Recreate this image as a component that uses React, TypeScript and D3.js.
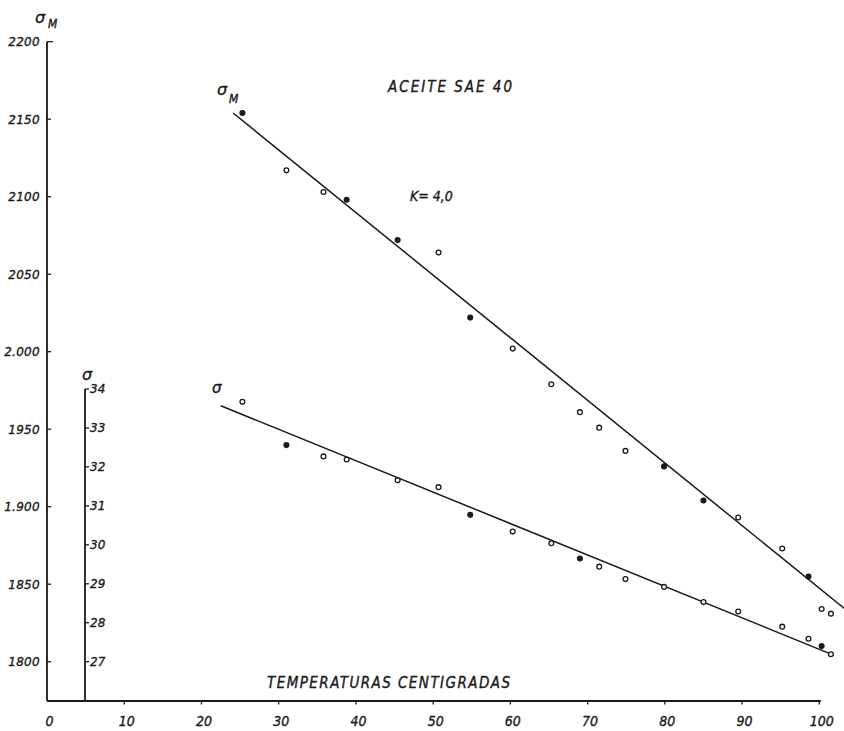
import React from "react";
import * as d3 from "d3";

// ---- data ----
const temps = [25.3, 31.0, 35.8, 38.8, 45.4, 50.7, 54.8, 60.3, 65.3, 69.0, 71.5, 74.9, 79.9, 85.0, 89.5, 95.2, 98.6, 100.3, 101.5];
const sigmaM = [2154, 2117, 2103, 2098, 2072, 2064, 2022, 2002, 1979, 1961, 1951, 1936, 1926, 1904, 1893, 1873, 1855, 1834, 1831];
const sigmaMFilled = [1, 0, 0, 1, 1, 0, 1, 0, 0, 0, 0, 0, 1, 1, 0, 0, 1, 0, 0];
const sigma = [33.67, 32.56, 32.27, 32.19, 31.66, 31.48, 30.77, 30.34, 30.04, 29.65, 29.44, 29.12, 28.92, 28.53, 28.29, 27.9, 27.59, 27.4, 27.19];
const sigmaFilled = [0, 1, 0, 0, 0, 0, 1, 0, 0, 1, 0, 0, 0, 0, 0, 0, 0, 1, 0];

const fitMTemps = [24.1, 103.2];
const fitMValues = [2154, 1834.5];
const fitSTemps = [22.5, 101.85];
const fitSValues = [33.57, 27.17];

const xTicks = [0, 10, 20, 30, 40, 50, 60, 70, 80, 90, 100];
const yMTicks = [2200, 2150, 2100, 2050, 2000, 1950, 1900, 1850, 1800];
const yMTickLabels = ["2200", "2150", "2100", "2050", "2.000", "1950", "1.900", "1850", "1800"];
const ySTicks = [34, 33, 32, 31, 30, 29, 28, 27];

const W = 844;
const H = 731;

const FONT = "'DejaVu Sans', sans-serif";
const NARROW = "'Liberation Sans Narrow', 'DejaVu Sans Condensed', 'Liberation Sans', sans-serif";
const INK = "#1a1a1a";
const TS = { stroke: INK, strokeWidth: 0.35 } as const;

export default function App() {
  const x = d3.scaleLinear().domain([0, 100]).range([47, 819.3]);
  const yM = d3.scaleLinear().domain([1800, 2200]).range([661.7, 41.7]);
  const yS = d3.scaleLinear().domain([27, 34]).range([661.7, 389]);

  const axisY = 701;
  const leftX = x(0);
  const sigmaAxisX = 85;

  const lineM = d3
    .line<number>()
    .x((_, i) => x(fitMTemps[i]))
    .y((v) => yM(v));
  const lineS = d3
    .line<number>()
    .x((_, i) => x(fitSTemps[i]))
    .y((v) => yS(v));

  return (
    <svg
      width={W}
      height={H}
      viewBox={`0 0 ${W} ${H}`}
      style={{ position: "absolute", left: 0, top: 0, background: "#ffffff" }}
    >
      <rect x={0} y={0} width={W} height={H} fill="#ffffff" />
      <defs>
        <clipPath id="plotclip">
          <rect x={0} y={0} width={W} height={H} />
        </clipPath>
      </defs>

      {/* main left axis (sigma_M) */}
      <line x1={leftX} x2={leftX} y1={yM(2200)} y2={axisY} stroke={INK} strokeWidth={1.8} />
      {yMTicks.map((t, i) => (
        <g key={"ym" + t}>
          <line
            x1={leftX}
            x2={leftX + (i === 0 ? 6 : 4)}
            y1={yM(t)}
            y2={yM(t)}
            stroke={INK}
            strokeWidth={1.3}
          />
          <text
            x={40}
            y={yM(t)}
            dy="0.36em"
            textAnchor="end"
            fontFamily={FONT}
            fontStyle="italic"
            fontSize={12}
            letterSpacing={0.3}
            fill={INK}
            {...TS}
          >
            {yMTickLabels[i]}
          </text>
        </g>
      ))}
      <text x={35} y={23} fontFamily={FONT} fontStyle="italic" fontSize={16} fill={INK} {...TS}>
        σ
      </text>
      <text x={48} y={28} fontFamily={NARROW} fontStyle="italic" fontSize={12} fill={INK} {...TS}>
        M
      </text>

      {/* secondary sigma axis */}
      <line x1={sigmaAxisX} x2={sigmaAxisX} y1={yS(34)} y2={axisY} stroke={INK} strokeWidth={1.8} />
      {ySTicks.map((t) => (
        <g key={"ys" + t}>
          <line x1={sigmaAxisX} x2={sigmaAxisX + 4} y1={yS(t)} y2={yS(t)} stroke={INK} strokeWidth={1.3} />
          <text
            x={sigmaAxisX + 5}
            y={yS(t)}
            dy="0.36em"
            fontFamily={FONT}
            fontStyle="italic"
            fontSize={12}
            fill={INK}
            {...TS}
          >
            {t}
          </text>
        </g>
      ))}
      <text x={82} y={380} fontFamily={FONT} fontStyle="italic" fontSize={16} fill={INK} {...TS}>
        σ
      </text>

      {/* bottom axis */}
      <line x1={leftX} x2={x(100) + 1.5} y1={axisY} y2={axisY} stroke={INK} strokeWidth={1.8} />
      {xTicks.map((t) => (
        <g key={"x" + t}>
          {t > 0 && (
            <line x1={x(t)} x2={x(t)} y1={axisY} y2={axisY + 3.5} stroke={INK} strokeWidth={1.3} />
          )}
          <text
            x={x(t) + 2.5}
            y={726}
            textAnchor="middle"
            fontFamily={NARROW}
            fontStyle="italic"
            fontSize={14}
            fill={INK}
            {...TS}
          >
            {t}
          </text>
        </g>
      ))}
      <text
        x={267}
        y={688}
        textLength={243}
        lengthAdjust="spacing"
        fontFamily={NARROW}
        fontStyle="italic"
        fontSize={15}
        fill={INK}
        {...TS}
      >
        TEMPERATURAS  CENTIGRADAS
      </text>

      {/* title and annotations */}
      <text
        x={388}
        y={92}
        textLength={124}
        lengthAdjust="spacing"
        fontFamily={NARROW}
        fontStyle="italic"
        fontSize={15}
        fill={INK}
        {...TS}
      >
        ACEITE  SAE  40
      </text>
      <text x={410} y={201} fontFamily={NARROW} fontStyle="italic" fontSize={14} fill={INK} {...TS}>
        K= 4,0
      </text>
      <text x={217} y={95} fontFamily={FONT} fontStyle="italic" fontSize={16} fill={INK} {...TS}>
        σ
      </text>
      <text x={229} y={103} fontFamily={NARROW} fontStyle="italic" fontSize={12} fill={INK} {...TS}>
        M
      </text>
      <text x={212} y={393} fontFamily={FONT} fontStyle="italic" fontSize={15} fill={INK} {...TS}>
        σ
      </text>

      {/* fitted lines */}
      <g clipPath="url(#plotclip)">
        <path d={lineM(fitMValues) || ""} fill="none" stroke={INK} strokeWidth={1.5} />
        <path d={lineS(fitSValues) || ""} fill="none" stroke={INK} strokeWidth={1.5} />
      </g>

      {/* measured points */}
      {temps.map((t, i) => (
        <circle
          key={"pm" + i}
          cx={x(t)}
          cy={yM(sigmaM[i])}
          r={2.4}
          fill={sigmaMFilled[i] ? INK : "#ffffff"}
          stroke={INK}
          strokeWidth={1.3}
        />
      ))}
      {temps.map((t, i) => (
        <circle
          key={"ps" + i}
          cx={x(t)}
          cy={yS(sigma[i])}
          r={2.4}
          fill={sigmaFilled[i] ? INK : "#ffffff"}
          stroke={INK}
          strokeWidth={1.3}
        />
      ))}
    </svg>
  );
}
